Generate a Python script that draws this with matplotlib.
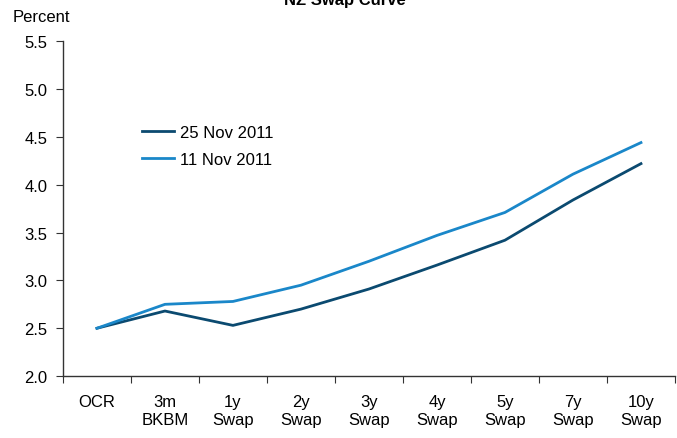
import numpy as np
import matplotlib
matplotlib.use("Agg")
import matplotlib.pyplot as plt

plt.rcParams['font.family'] = ['Liberation Sans', 'DejaVu Sans']

# data
tenors = ["OCR", "3m\nBKBM", "1y\nSwap", "2y\nSwap", "3y\nSwap", "4y\nSwap", "5y\nSwap", "7y\nSwap", "10y\nSwap"]
nov25 = [2.50, 2.68, 2.53, 2.70, 2.91, 3.16, 3.42, 3.84, 4.22]
nov11 = [2.50, 2.75, 2.78, 2.95, 3.20, 3.47, 3.71, 4.11, 4.44]

fig = plt.figure(figsize=(6.77, 4.39), dpi=100)
ax = fig.add_axes([0.093, 0.141, 0.904, 0.763])

x = np.arange(len(tenors))
ax.plot(x, nov25, color="#0b4a70", lw=2, label="25 Nov 2011")
ax.plot(x, nov11, color="#1a87c9", lw=2, label="11 Nov 2011")

ax.set_xlim(-0.5, len(tenors) - 0.5)
ax.set_ylim(2.0, 5.5)
ax.set_yticks(np.arange(2.0, 5.51, 0.5))
ax.set_yticklabels(["%.1f" % v for v in np.arange(2.0, 5.51, 0.5)])

# ticks at category boundaries, labels at centres
ax.set_xticks(np.arange(-0.5, len(tenors), 1.0))
ax.set_xticklabels([])
ax.set_xticks(x, minor=True)
ax.set_xticklabels(tenors, minor=True)
ax.tick_params(axis="x", which="minor", length=0, pad=13, labelsize=12)
ax.tick_params(axis="x", which="major", length=5, direction="out", color="#333333")
ax.tick_params(axis="y", length=5, direction="out", labelsize=12, pad=6, color="#333333")

for s in ["top", "right"]:
    ax.spines[s].set_visible(False)
for s in ["left", "bottom"]:
    ax.spines[s].set_color("#333333")
    ax.spines[s].set_linewidth(1.0)

ax.legend(loc="upper left", bbox_to_anchor=(0.105, 0.795), frameon=False, fontsize=12,
          handlelength=1.9, handletextpad=0.35, labelspacing=0.75)

fig.text(0.018, 0.96, "Percent", fontsize=12, ha="left", va="center")
fig.text(0.51, 1.0, "NZ Swap Curve", fontsize=12, fontweight="bold", ha="center", va="center")

fig.savefig("out.png", dpi=100)
